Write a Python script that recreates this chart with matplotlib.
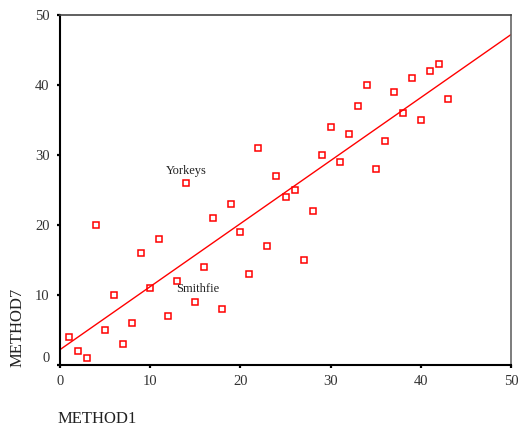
import numpy as np
import matplotlib.pyplot as plt
from matplotlib.transforms import ScaledTranslation

plt.rcParams['font.family'] = ['Liberation Serif', 'DejaVu Serif']

# data
method1 = list(range(1, 44))
method7 = [4, 2, 1, 20, 5, 10, 3, 6, 16, 11, 18, 7, 12, 26, 9, 14, 21, 8, 23, 19,
           13, 31, 17, 27, 24, 25, 15, 22, 30, 34, 29, 33, 37, 40, 28, 32, 39, 36,
           41, 35, 42, 43, 38]
labelled = {'Yorkeys': 14, 'Smithfie': 13}
ticks = [0, 10, 20, 30, 40, 50]

x = np.array(method1)
y = np.array(method7)
slope, intercept = np.polyfit(x, y, 1)

fig = plt.figure(figsize=(5.18, 4.32), dpi=100)
ax = fig.add_axes([60 / 518, 67 / 432, 451 / 518, 350 / 432])

ax.plot(x, y, 's', ms=5, mfc='none', mec='red', mew=1.1, ls='none')
xl = np.array([0, 50])
ax.plot(xl, intercept + slope * xl, color='red', lw=1)

name = 'Yorkeys'
i = method1.index(labelled[name])
ax.annotate(name, (x[i], y[i]), xytext=(0, 8.5), textcoords='offset points',
            ha='center', va='center', fontsize=9, color='#222222')
name = 'Smithfie'
i = method1.index(labelled[name])
ax.annotate(name, (x[i], y[i]), xytext=(-0.5, -5.8), textcoords='offset points',
            ha='left', va='center', fontsize=9, color='#222222')

ax.set_xlim(0, 50)
ax.set_ylim(0, 50)
ax.set_xticks(ticks)
ax.set_yticks(ticks)
ax.tick_params(direction='out', length=2.5, width=1.6, labelsize=10.5,
               colors='black', pad=5)
for lab in ax.get_xticklabels() + ax.get_yticklabels():
    lab.set_color('#333333')

# the y "0" label sits a little above its tick in the original
fig.canvas.draw()
ylab0 = ax.get_yticklabels()[0]
ylab0.set_transform(ylab0.get_transform() + ScaledTranslation(0, 8 / 100, fig.dpi_scale_trans))

ax.spines['left'].set_linewidth(1.5)
ax.spines['bottom'].set_linewidth(1.5)
ax.spines['top'].set_color('#444444')
ax.spines['right'].set_color('#666666')
ax.spines['top'].set_linewidth(1.2)
ax.spines['right'].set_linewidth(1.2)

fig.text(58 / 518, 9 / 432, 'METHOD1', fontsize=12, ha='left', va='baseline',
         color='#222222')
fig.text(26 / 518, 65 / 432, 'METHOD7', fontsize=12, rotation=90, ha='right',
         va='bottom', color='#222222')

fig.savefig('out.png', dpi=100)
